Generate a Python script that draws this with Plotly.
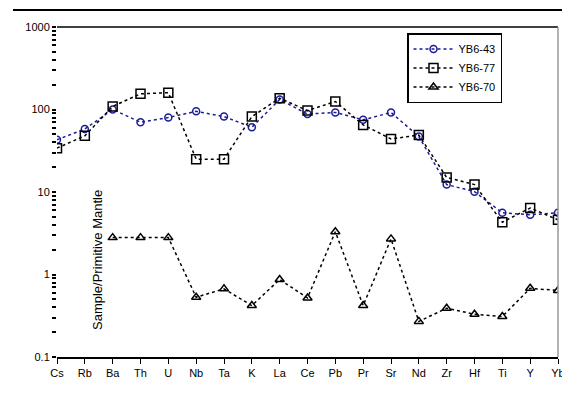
import plotly.graph_objects as go

elements = ["Cs", "Rb", "Ba", "Th", "U", "Nb", "Ta", "K", "La", "Ce",
            "Pb", "Pr", "Sr", "Nd", "Zr", "Hf", "Ti", "Y", "Yb"]

yb6_43 = [43, 58, 100, 70, 80, 95, 82, 61, 132, 88,
          92, 75, 92, 47, 12.3, 10.1, 5.6, 5.3, 5.6]
yb6_77 = [34, 48, 109, 155, 160, 25, 25, 82, 137, 97,
          125, 65, 44, 49, 15, 12.3, 4.3, 6.4, 4.6]
yb6_70 = [None, None, 2.8, 2.8, 2.8, 0.53, 0.67, 0.42, 0.87, 0.52,
          3.3, 0.42, 2.7, 0.27, 0.39, 0.33, 0.31, 0.68, 0.64]

series_names = ["YB6-43", "YB6-77", "YB6-70"]

major_ticks = [0.1, 1, 10, 100, 1000]
major_labels = ["0.1", "1", "10", "100", "1000"]
minor_ticks = [k * 10.0 ** e for e in range(-1, 3) for k in range(2, 10)]

x = list(range(len(elements)))

fig = go.Figure()
fig.add_trace(go.Scatter(
    x=x, y=yb6_43, name=series_names[0], mode="lines+markers",
    line=dict(color="#1c1c96", width=1.5, dash="dot"),
    marker=dict(symbol="circle-open", size=7, color="#1c1c96", line=dict(width=1.5)),
))
fig.add_trace(go.Scatter(
    x=x, y=yb6_77, name=series_names[1], mode="lines+markers",
    line=dict(color="black", width=1.5, dash="dot"),
    marker=dict(symbol="square-open", size=9, color="black", line=dict(width=1.5)),
))
fig.add_trace(go.Scatter(
    x=x, y=yb6_70, name=series_names[2], mode="lines+markers",
    line=dict(color="black", width=1.5, dash="dot"),
    marker=dict(symbol="triangle-up-open", size=8, color="black", line=dict(width=1.5)),
))

# page body has an 8px margin, so the figure is shrunk/shifted to compensate
W, H = 562, 387
L, T, R, B = 49, 19, 12, 38
pw, ph = W - L - R, H - T - B

fig.update_layout(
    width=W, height=H,
    margin=dict(l=L, r=R, t=T, b=B, autoexpand=False),
    paper_bgcolor="white", plot_bgcolor="white",
    font=dict(family="Liberation Sans, Arial, sans-serif", size=11, color="black"),
    showlegend=True,
    legend=dict(
        x=(407 - 57) / pw, y=1 - (33 - 27) / ph, xanchor="left", yanchor="top",
        bgcolor="white", bordercolor="black", borderwidth=1.5,
        font=dict(size=11), tracegroupgap=0, itemwidth=40,
    ),
    xaxis=dict(
        range=[0, 18], tickvals=x, ticktext=elements, automargin=False,
        showline=True, linecolor="black", linewidth=1.5,
        ticks="outside", ticklen=5, tickcolor="black", tickwidth=1,
        showgrid=False, zeroline=False,
    ),
    yaxis=dict(
        type="log", range=[-1, 3], automargin=False,
        tickvals=major_ticks + minor_ticks,
        ticktext=major_labels + [""] * len(minor_ticks),
        showline=False, ticks="outside", ticklen=4, tickcolor="black", tickwidth=1.5,
        showgrid=False, zeroline=False,
    ),
    shapes=[
        dict(type="line", xref="paper", yref="paper", x0=0, x1=1, y0=1, y1=1,
             line=dict(color="black", width=1.5)),
        dict(type="line", xref="paper", yref="paper", x0=1, x1=1, y0=0, y1=1,
             line=dict(color="#9a9a9a", width=1.5)),
        dict(type="line", xref="paper", yref="paper",
             x0=(13 - 57) / pw, x1=(570 - 57) / pw,
             y0=1 + (27 - 10) / ph, y1=1 + (27 - 10) / ph,
             line=dict(color="black", width=2)),
    ],
    annotations=[
        dict(text="Sample/Primitive Mantle", textangle=-90, xref="paper", yref="paper",
             x=(97 - 57) / pw, y=(357 - 260) / ph, xanchor="center", yanchor="middle",
             showarrow=False, font=dict(size=13, color="black")),
    ],
)

fig.write_html("out.html")
